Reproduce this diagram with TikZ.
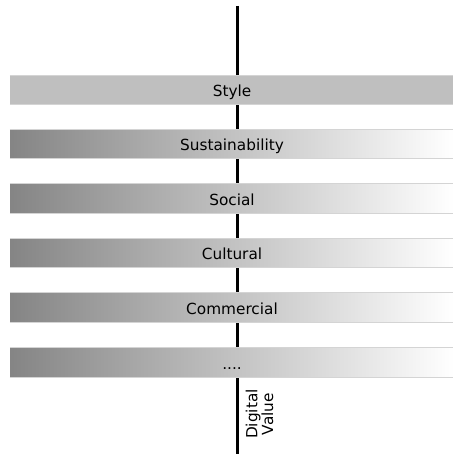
\documentclass[tikz,border=0pt]{standalone}
\usepackage{fontspec}
\setmainfont{DejaVu Sans}
\usetikzlibrary{positioning}
\tikzset{
  band/.style={minimum width=444pt, minimum height=29pt, inner sep=0pt,
    text height=14pt, text depth=1pt, font=\fontsize{15.3}{17}\selectfont},
  fadeband/.style={band, left color=black!48, right color=white},
  flatband/.style={band, fill=black!25},
  rim/.style={black!17, line width=0.9pt}
}

\begin{document}
\begin{tikzpicture}[x=1pt,y=-1pt]
    \useasboundingbox (0,0) rectangle (452,454);

    \coordinate (top) at (237,6);
    \coordinate (bottom) at (237,454);
    \draw[line width=3pt](top)--(bottom);

    \node[flatband] (style) at (232,90) {Style};
    \node[fadeband] (sust) at (232,144) {Sustainability};
    \node[fadeband] (social) at (232,198.5) {Social};
    \node[fadeband] (cult) at (232,253) {Cultural};
    \node[fadeband] (comm) at (232,307.5) {Commercial};
    \node[fadeband] (more) at (232,362.5) {....};

    \foreach \b in {style,sust,social,cult,comm,more}
      {\draw[rim](\b.north west)--(\b.north east);
       \draw[rim](\b.south west)--(\b.south east);}

    \node[rotate=90, align=center, font=\fontsize{15.3}{14}\selectfont] (dv) at (259.5,414) {Digital\\Value};
\end{tikzpicture}
\end{document}
